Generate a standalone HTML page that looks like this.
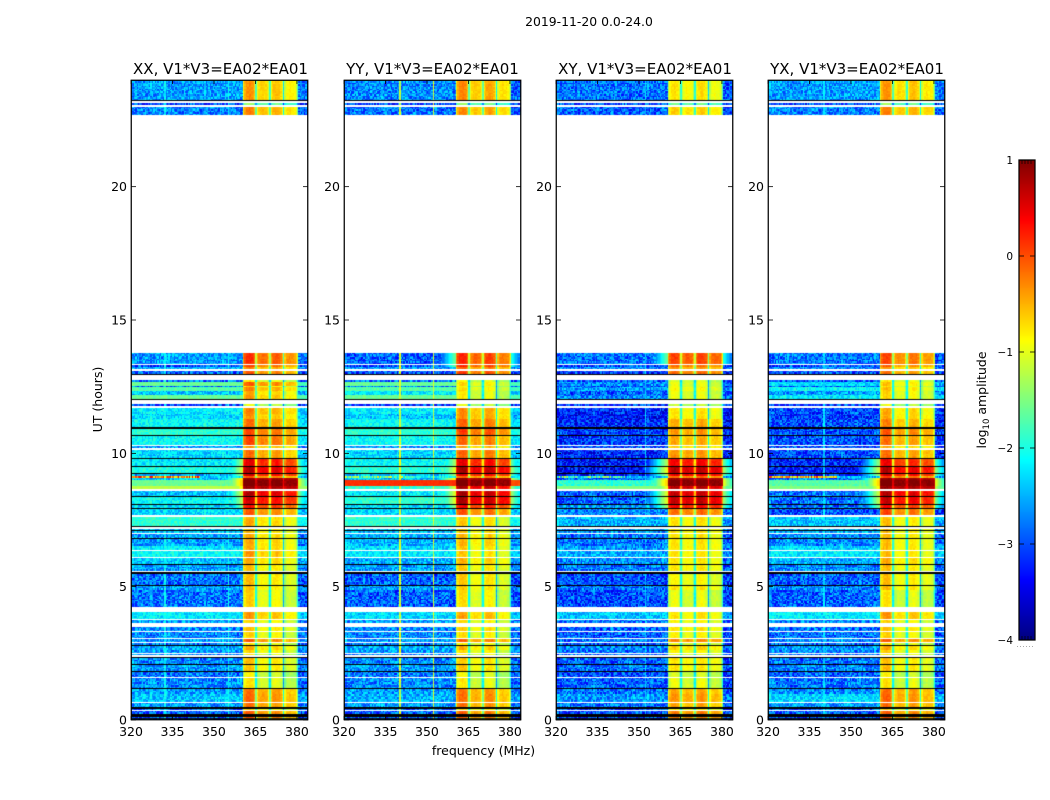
<!DOCTYPE html>
<html lang="en">
<head>
<meta charset="utf-8">
<title>2019-11-20 0.0-24.0</title>
<style>
html,body{margin:0;padding:0;background:#fff;}
#figure{position:relative;width:1050px;height:800px;overflow:hidden;background:#fff;font-family:"DejaVu Sans","Liberation Sans",sans-serif;color:#000;}
canvas{position:absolute;display:block;}
svg{position:absolute;left:0;top:0;}
svg text{font-family:"DejaVu Sans","Liberation Sans",sans-serif;fill:#000;}
</style>
</head>
<body>
<div id="figure">
<canvas id="panel-0" width="177" height="640" style="left:131px;top:80px"></canvas>
<canvas id="panel-1" width="177" height="640" style="left:344px;top:80px"></canvas>
<canvas id="panel-2" width="177" height="640" style="left:556px;top:80px"></canvas>
<canvas id="panel-3" width="177" height="640" style="left:768px;top:80px"></canvas>
<canvas id="colorbar" width="16" height="480" style="left:1019px;top:160px"></canvas>
<svg id="axes" width="1050" height="800" viewBox="0 0 1050 800">
  <text x="589" y="26" font-size="12.4" text-anchor="middle">2019-11-20 0.0-24.0</text>
  <text x="220.5" y="74" font-size="15" text-anchor="middle">XX, V1*V3=EA02*EA01</text>
  <text x="432.5" y="74" font-size="15" text-anchor="middle">YY, V1*V3=EA02*EA01</text>
  <text x="645" y="74" font-size="15" text-anchor="middle">XY, V1*V3=EA02*EA01</text>
  <text x="857" y="74" font-size="15" text-anchor="middle">YX, V1*V3=EA02*EA01</text>
  <text x="483.5" y="755" font-size="12.5" text-anchor="middle">frequency (MHz)</text>
  <text x="0" y="0" font-size="12.5" text-anchor="middle" transform="translate(102,399.5) rotate(-90)">UT (hours)</text>
  <text x="0" y="0" font-size="12.5" text-anchor="middle" transform="translate(986,400) rotate(-90)">log<tspan font-size="8.5" dy="3">10</tspan><tspan dy="-3"> amplitude</tspan></text>
</svg>
</div>
<script>
// ---- Tick labels ----
const xTickValues = [320, 335, 350, 365, 380];
const yTickValues = [0, 5, 10, 15, 20];
const colorbarTickValues = [1, 0, -1, -2, -3, -4];

// ---- Time structure (hours, top of plot downwards). Each line of rowEdgesHours pairs with the same line of rowKinds ----
const rowEdgesHours = [
  24,23.25,23.21,23.14,23.08,23,22.69,
  13.76,13.35,13.31,13.24,13.16,13.09,12.98,12.94,
  12.75,12.69,12.53,12.49,12.34,12.19,12.04,12,
  11.85,11.78,11.7,11.48,11.29,10.97,10.93,10.69,10.65,10.31,10.28,10.2,
  10.14,9.83,9.77,9.53,9.49,9.26,
  9.21,9.15,9.09,9,8.78,8.66,
  8.59,8.4,8.36,8.1,8.06,7.95,7.91,7.67,
  7.61,7.28,7.22,7.16,7.11,7.07,7.01,
  6.98,6.83,6.79,6.54,6.51,6.38,6.34,6.11,6.08,5.85,
  5.81,5.59,5.55,5.46,5.06,5.03,4.89,
  4.86,4.24,4.05,3.79,3.75,3.64,3.49,3.34,
  3.3,3.06,3.02,2.93,2.87,2.81,2.76,2.64,2.61,2.51,2.47,2.44,
  2.36,2.32,2.1,2.06,1.84,1.8,1.61,
  1.58,1.2,1.16,0.99,0.96,0.68,0.64,0.47,
  0.43,0.38,0.34,0.23,0.13,0.06,0.02,
  0];
const rowKinds = (
  "DKWDWDW" +
  "DWDDWDKW" +
  "DDDDDDKW" +
  "DWDDDKDKDWDW" +
  "DKDKDK" +
  "DDDDDW" +
  "DKDKDKDW" +
  "DKWDKDW" +
  "DKDWDWDWDK" +
  "DWKDKDW" +
  "DWDWDWDW" +
  "DWDWDKDKDWDW" +
  "KDKDKDW" +
  "DKDKDWDK" +
  "DWDKDKD").split("");

// ---- Log10 amplitude per data row: off-band level and in-band level ----
const offBandXX = [-2.6,-3,-2.7,-2.6,-3,-2.5,-2.9,-2.8,-1.6,-2.8,-1.7,-2.4,-1.6,-3.1,-2.2,-2.3,-2.1,-1.9,-2.1,-2.6,-2.3,-2.2,-2,-2.5,-2.3,-2.4,-1.6,-1.2,-2.4,-2.1,-2.3,-2.3,-1.9,-2.4,-2.4,-2.6,-2.6,-2.2,-2.1,-2.4,-2.6,-2.8,-2.6,-2.8,-2.2,-2.6,-2.7,-2.7,-2.6,-2.8,-2.5,-2.6,-2.7,-2.7,-2.6,-2.8,-2.7,-2.6,-2.4,-2.6,-2.8,-2.9,-2.9,-2.9];
const inBandXX = [-0.6,-1.6,-0.5,-0.1,-0.2,-0.5,-0.3,-1,-0.3,-0.9,-0.5,-0.7,-0.6,-1.2,-0.5,-0.6,-0.4,-0.2,-0.2,-0.6,-0.4,0.25,0.5,0.3,-0.3,0.85,1,0.8,0.5,0.35,0.1,-0.3,-0.7,-0.8,-0.8,-0.7,-0.7,-0.7,-0.6,-0.7,-0.8,-0.8,-0.8,-0.9,-0.6,-0.9,-0.8,-0.9,-0.3,-1,-0.7,-0.9,-1,-0.8,-0.8,-1.1,-1,-0.4,-0.35,-0.4,-0.9,-0.3,-0.3,-0.5];
const offBandYY = [-2.7,-3,-2.8,-2.9,-3,-2.6,-3,-2.8,-1.6,-2.7,-1.7,-2.2,-1.6,-3.1,-2.2,-2.4,-2.1,-1.9,-2.1,-2.6,-2.3,-2.1,-1.9,-2.4,-2.1,-2.4,0.15,-1.9,-2.2,-1.9,-2.3,-2.3,-1.9,-2.4,-2.4,-2.5,-2.5,-2.3,-2.2,-2.5,-2.6,-2.9,-2.6,-2.9,-2.3,-2.6,-2.7,-2.7,-2.6,-2.8,-2.5,-2.6,-2.7,-2.7,-2.6,-2.8,-2.7,-2.6,-2.5,-2.6,-2.8,-2.9,-2.9,-2.9];
const inBandYY = [-0.5,-1.6,-0.5,0,0,-0.3,-0.1,-1.1,-0.9,-1.1,-0.9,-1,-1,-1.2,-0.5,-0.5,-0.3,-0.1,-0.3,-0.6,-0.3,0.3,0.6,0.3,-0.3,0.85,1,0.6,0.6,0.6,0.2,-0.2,-0.8,-0.8,-0.8,-0.7,-0.7,-0.8,-0.8,-0.7,-0.8,-0.8,-0.8,-0.9,-0.6,-0.9,-0.8,-0.9,-0.3,-1,-0.7,-0.9,-1,-0.8,-0.8,-1.1,-1,-0.4,-0.35,-0.4,-0.9,-0.3,-0.3,-0.5];
const offBandXY = [-2.8,-3,-2.9,-2.8,-3,-2.7,-3.1,-3,-2.7,-3,-2.6,-2.9,-2.7,-3.1,-3.2,-3.3,-3.2,-3.1,-3.1,-3,-3.2,-3.3,-3.4,-3.2,-2.6,-2.9,-1.9,-1.5,-2.9,-2.9,-2.6,-2.7,-2.5,-2.6,-2.6,-2.8,-2.8,-2.6,-2.5,-2.7,-2.8,-3,-2.8,-3,-2.4,-2.8,-2.9,-2.9,-2.8,-3,-2.7,-2.8,-2.9,-2.9,-2.8,-3,-2.9,-2.8,-2.6,-2.8,-3,-3,-3,-3];
const inBandXY = [-0.8,-1.6,-0.7,0,-0.2,-0.4,-0.2,-1.1,-1,-1,-0.9,-1,-1,-1.2,-0.8,-0.8,-0.5,-0.4,-0.5,-0.7,-0.4,0.35,0.65,0.4,-0.2,0.85,1,0.7,0.6,0.6,0.3,-0.2,-0.8,-0.8,-0.8,-0.8,-0.8,-0.8,-0.8,-0.8,-0.8,-0.9,-0.8,-1,-0.8,-0.9,-0.8,-0.9,-0.3,-1,-0.7,-0.9,-1,-0.8,-0.8,-1.1,-1,-0.5,-0.4,-0.5,-0.9,-0.3,-0.3,-0.5];
const offBandYX = [-2.6,-3,-2.7,-2.8,-3,-2.7,-3,-3,-2.3,-2.9,-2.1,-2.6,-2.2,-3.1,-3,-3.1,-3,-3,-3,-3,-3,-3.2,-3.3,-3.2,-2.5,-2.8,-1.7,-1.5,-2.8,-2.8,-2.8,-3,-2.4,-2.5,-2.5,-2.7,-2.7,-2.3,-2.2,-2.5,-2.7,-2.9,-2.7,-2.9,-2.2,-2.7,-2.8,-2.8,-2.7,-2.9,-2.6,-2.7,-2.8,-2.8,-2.7,-2.9,-2.8,-2.7,-2.3,-2.6,-2.9,-2.9,-3,-3];
const inBandYX = [-0.6,-1.6,-0.5,-0.2,-0.3,-0.6,-0.4,-1,-0.8,-1,-0.8,-0.9,-0.9,-1.2,-0.7,-0.7,-0.5,-0.3,-0.4,-0.7,-0.4,0.2,0.5,0.3,-0.2,0.85,1,0.8,0.5,0.4,0.1,-0.2,-0.8,-0.8,-0.8,-0.8,-0.8,-0.8,-0.8,-0.7,-0.8,-0.8,-0.8,-1,-0.6,-0.9,-0.8,-0.9,-0.3,-1,-0.7,-0.9,-1,-0.8,-0.8,-1.1,-1,-0.4,-0.35,-0.4,-0.9,-0.3,-0.3,-0.5];

// ---- Spectral shape ----
const passbandStartMHz = 360.5;
const passbandStepMHz = 0.5;
const passbandOffsets = [-0.5,-0.15,0,0,0.05,0.05,0,-0.05,-0.3,-1,-0.3,-0.05,0,0.05,0.05,0,0,-0.05,-0.4,-1.2,-0.3,-0.05,0,0.05,0.05,0,0,-0.1,-0.4,-1.4,-0.3,-0.05,0,0.05,0.05,0,0,-0.05,-0.3,-0.8];
const subbandTiltXX = [0.25,-0.1,0,-0.25];
const subbandTiltYY = [0.2,-0.15,0.05,-0.25];
const subbandTiltXY = [0.05,-0.1,0.05,-0.15];
const subbandTiltYX = [0.25,-0.15,0,-0.2];

// ---- Narrow interference: vertical lines and one horizontal spur ----
const rfiMHzXX = [332, 355];
const rfiMHzYY = [340, 352];
const rfiMHzXY = [352];
const rfiMHzYX = [340];
const rfiLevels = [-2.1, -1.1, -2.4, -2.3];
const spurDataRow = 24;
const spurEndMHz = 345;
const spurLevels = [-0.3, -1.6, -1.8, -0.5];

// Hand-typed fine texture table (visual grain only, not a data series)
const grain = [0.7,-0.4,0.1,-0.9,0.5,-0.2,0.9,-0.6,0.3,-1,0.2,0.6,-0.7,0,0.8,-0.3,-0.8,0.4,-0.1,1,-0.5,0.2,-0.9,0.6,0.1,-0.4,0.7,-0.7,0.3,-0.2,0.9,-1,0.5,0,-0.6,0.4,0.8,-0.3,-0.8,0.2,-0.1,0.6,-0.5,1,-0.9,0.3,-0.2,0.7,-0.6,0.1,0.5,-0.4,-1,0.8,0,-0.7,0.4,-0.3,0.9,-0.8,0.2];

const offBands = [offBandXX, offBandYY, offBandXY, offBandYX];
const inBands = [inBandXX, inBandYY, inBandXY, inBandYX];
const tilts = [subbandTiltXX, subbandTiltYY, subbandTiltXY, subbandTiltYX];
const rfis = [rfiMHzXX, rfiMHzYY, rfiMHzXY, rfiMHzYX];

// ---- Layout ----
const plotTop = 80, plotBottom = 720, plotWidth = 177;
const plotLefts = [131, 344, 556, 768];
const freqMin = 320, freqMax = 384, hourMax = 24;
const channelWidthMHz = 0.5;
const valueMin = -4, valueMax = 1;

function xScale(mhz){ return (mhz - freqMin) / (freqMax - freqMin) * plotWidth; }
function yScale(hours){ return plotBottom - hours / hourMax * (plotBottom - plotTop); }
function clamp(v, a, b){ return Math.min(b, Math.max(a, v)); }
function jet(value){
  const t = clamp((value - valueMin) / (valueMax - valueMin), 0, 1);
  const r = clamp(1.5 - Math.abs(4 * t - 3), 0, 1);
  const g = clamp(1.5 - Math.abs(4 * t - 2), 0, 1);
  const b = clamp(1.5 - Math.abs(4 * t - 1), 0, 1);
  return "rgb(" + Math.round(r * 255) + "," + Math.round(g * 255) + "," + Math.round(b * 255) + ")";
}

function cellValue(p, d, mhz, g){
  const off = offBands[p][d], inb = inBands[p][d];
  const i = Math.floor((mhz - passbandStartMHz) / passbandStepMHz);
  if (i >= 0 && i < passbandOffsets.length) {
    const sub = clamp(Math.floor((mhz - passbandStartMHz + 0.25) / 5), 0, 3);
    const damp = inb > 0.7 ? 0.35 : 1;
    return inb + (passbandOffsets[i] + tilts[p][sub]) * damp + g * 0.09;
  }
  const amp = clamp((-off - 1.3) * 0.35, 0.05, 0.55);
  let v = off + g * amp;
  if (mhz > 380) v -= 0.15;
  if (inb > -0.05) {
    v = Math.max(v, mhz < 370 ? inb - 1.5 - (passbandStartMHz - mhz) * 0.28 : inb - 1.8 - (mhz - 380) * 0.3);
  }
  if (rfis[p].some(function(f){ return mhz >= f && mhz < f + channelWidthMHz; })) v = Math.max(v, rfiLevels[p] + g * 0.2);
  if (d === spurDataRow && mhz < spurEndMHz) v = Math.max(v, spurLevels[p] + g * 0.8);
  return v;
}

function drawPanel(p){
  const ctx = document.getElementById("panel-" + p).getContext("2d");
  let d = 0, rowCount = 0;
  rowKinds.forEach(function(kind, s){
    const y0 = yScale(rowEdgesHours[s]) - plotTop, y1 = yScale(rowEdgesHours[s + 1]) - plotTop;
    if (kind === "W") return;
    if (kind === "K") {
      ctx.fillStyle = "#000";
      ctx.fillRect(0, Math.round(y0), plotWidth, Math.max(1, Math.round(y1) - Math.round(y0)));
      return;
    }
    const n = Math.max(1, Math.round((y1 - y0) / 1.4));
    for (let r = 0; r < n; r++) {
      const ya = Math.round(y0 + (y1 - y0) * r / n), yb = Math.round(y0 + (y1 - y0) * (r + 1) / n);
      for (let mhz = freqMin; mhz < freqMax; mhz += channelWidthMHz) {
        const c = (mhz - freqMin) / channelWidthMHz;
        const g = grain[(rowCount * 23 + c * 11 + p * 7 + (rowCount * c) % 13) % grain.length];
        const xa = Math.round(xScale(mhz)), xb = Math.round(xScale(mhz + channelWidthMHz));
        ctx.fillStyle = jet(cellValue(p, d, mhz + channelWidthMHz / 2, g));
        ctx.fillRect(xa, ya, xb - xa, Math.max(1, yb - ya));
      }
      rowCount++;
    }
    d++;
  });
}
[0, 1, 2, 3].forEach(drawPanel);

// ---- Colour bar ----
(function(){
  const ctx = document.getElementById("colorbar").getContext("2d");
  for (let y = 0; y < 480; y++) {
    ctx.fillStyle = jet(valueMax - (y + 0.5) / 480 * (valueMax - valueMin));
    ctx.fillRect(0, y, 16, 1);
  }
})();

// ---- Axes ----
const svg = document.getElementById("axes");
const NS = "http://www.w3.org/2000/svg";
function line(x1, y1, x2, y2, w, color){
  const el = document.createElementNS(NS, "line");
  el.setAttribute("x1", x1);
  el.setAttribute("y1", y1);
  el.setAttribute("x2", x2);
  el.setAttribute("y2", y2);
  el.setAttribute("stroke", color || "#000");
  el.setAttribute("stroke-width", w);
  svg.appendChild(el);
  return el;
}
function label(x, y, str, size, anchor){
  const el = document.createElementNS(NS, "text");
  el.setAttribute("x", x);
  el.setAttribute("y", y);
  el.setAttribute("font-size", size);
  el.setAttribute("text-anchor", anchor);
  el.textContent = str;
  svg.appendChild(el);
  return el;
}

plotLefts.forEach(function(left){
  const frame = document.createElementNS(NS, "rect");
  frame.setAttribute("x", left + 0.25);
  frame.setAttribute("y", plotTop + 0.25);
  frame.setAttribute("width", plotWidth - 0.5);
  frame.setAttribute("height", plotBottom - plotTop - 0.5);
  frame.setAttribute("fill", "none");
  frame.setAttribute("stroke", "#000");
  frame.setAttribute("stroke-width", "1.25");
  
  
  svg.appendChild(frame);

  xTickValues.forEach(function(v){
    const x = left + xScale(v);
    const tb = line(x, plotBottom, x, plotBottom - 4, 0.8);
    
    
    const tt = line(x, plotTop, x, plotTop + 4, 0.8);
    
    
    const t = label(x, 736, String(v), 12.5, "middle");
    
    
  });
  yTickValues.forEach(function(v){
    const y = yScale(v);
    const tl = line(left, y, left + 5, y, 0.8);
    
    
    const tr = line(left + plotWidth, y, left + plotWidth - 5, y, 0.8);
    
    
    const t = label(left - 4, y + 4.5, String(v), 12.5, "end");
    
    
  });
});

// Colour bar frame, ticks, labels
const barLeft = 1019, barWidth = 16, barTop = 160, barBottom = 640;
function barY(v){ return barBottom - (v - valueMin) / (valueMax - valueMin) * (barBottom - barTop); }
const barFrame = document.createElementNS(NS, "rect");
barFrame.setAttribute("x", barLeft);
barFrame.setAttribute("y", barTop);
barFrame.setAttribute("width", barWidth);
barFrame.setAttribute("height", barBottom - barTop);
barFrame.setAttribute("fill", "none");
barFrame.setAttribute("stroke", "#000");
barFrame.setAttribute("stroke-width", "1.25");


svg.appendChild(barFrame);
colorbarTickValues.forEach(function(v){
  const y = barY(v);
  const edge = v === valueMin || v === valueMax;
  if (!edge) {
    const a = line(barLeft, y, barLeft + 5, y, 0.8);
    
    
    const b = line(barLeft + barWidth, y, barLeft + barWidth - 5, y, 0.8);
    
    
  } else {
    [3, 6, 9, 12].forEach(function(dx){
      const dir = v === valueMax ? 1 : -1;
      const m = line(barLeft + dx, y, barLeft + dx, y + dir * 4, 0.7);
      
      
    });
  }
  const t = label(1013, y + 3.8, String(v).replace("-", "\u2212"), 10.5, "end");
  
  
});
const dots = line(1017, 646.5, 1035, 646.5, 1, "#aaa");
dots.setAttribute("stroke-dasharray", "1 2");


</script>
</body>
</html>
